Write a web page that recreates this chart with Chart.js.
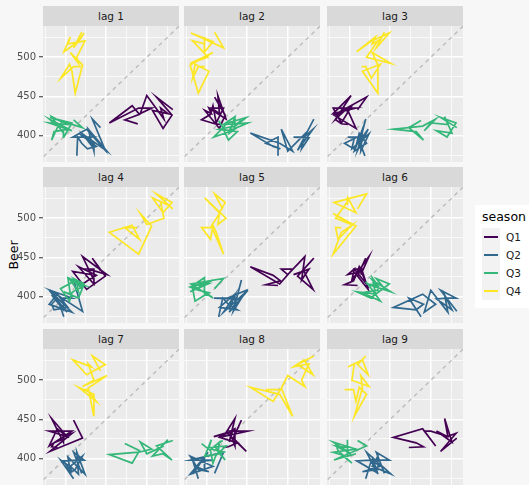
<!DOCTYPE html>
<html>
<head>
<meta charset="utf-8">
<script src="https://cdn.jsdelivr.net/npm/chart.js@4.4.1/dist/chart.umd.min.js"></script>
<style>
    body { margin: 0; background: #f7f7f7; font-family: "DejaVu Sans", sans-serif; }
    #plot { position: relative; width: 529px; height: 485px; overflow: hidden; }
    .panel { position: absolute; }
    .strip { position: absolute; height: 20px; background: #d9d9d9; color: #1a1a1a;
             font-size: 10.5px; line-height: 20px; text-align: center; }
    #ytitle { position: absolute; left: 13px; top: 255px; font-size: 12.5px; color: #000;
              transform: translate(-50%, -50%) rotate(-90deg); white-space: nowrap; }
    #legend { position: absolute; left: 475px; top: 205px; width: 60px; height: 103px; background: #fff; }
    #legend .title { position: absolute; left: 7px; top: 4px; font-size: 12.5px; color: #000; }
    #legend .key { position: absolute; left: 7px; width: 18px; height: 18px; background: #f2f2f2; }
    #legend .key span { position: absolute; left: 2px; top: 8px; width: 14px; height: 1.6px; }
    #legend .lab { position: absolute; left: 31px; font-size: 10.5px; color: #1a1a1a; line-height: 18px; }
</style>
</head>
<body>
<div id="plot">
    <div id="ytitle">Beer</div>
    <div id="legend"><div class="title">season</div></div>
</div>
<script>
// quarterly beer production, 1992 Q1 .. 2010 Q2
const startYear = 1992;
const seasons = ['Q1', 'Q2', 'Q3', 'Q4'];
const seasonColours = ['#440154', '#31688E', '#35B779', '#FDE725'];
const beer = [
    443, 410, 420, 532,
    433, 421, 410, 512,
    449, 381, 423, 531,
    426, 408, 416, 520,
    409, 398, 398, 507,
    432, 398, 406, 526,
    428, 397, 403, 517,
    435, 383, 424, 521,
    421, 402, 414, 500,
    451, 380, 416, 492,
    428, 408, 406, 506,
    435, 380, 421, 490,
    435, 390, 412, 454,
    416, 403, 408, 482,
    438, 386, 405, 491,
    427, 383, 394, 473,
    420, 390, 410, 488,
    415, 398, 419, 488,
    414, 374
];
const lags = [1, 2, 3, 4, 5, 6, 7, 8, 9];
const gridTicks = [375, 400, 425, 450, 475, 500, 525];
const labelTicks = [400, 450, 500];

// facet layout
const colLeft = [43, 184, 327];
const rowTop = [26, 187, 349];
const panelW = 136, panelH = 136, axisW = 43;

// ggplot style 5% expansion of a data range
function expand(values) {
    const lo = Math.min(...values), hi = Math.max(...values);
    const pad = (hi - lo) * 0.05;
    return [lo - pad, hi + pad];
}

// x is the lagged value, so the last observation never appears there
const xRange = expand(beer.slice(0, beer.length - 1));
const yRange = expand(beer);

const isMajor = v => labelTicks.includes(v);

const panelBackground = {
    id: 'panelBackground',
    beforeDraw(chart) {
        const a = chart.chartArea;
        chart.ctx.save();
        chart.ctx.fillStyle = '#ebebeb';
        chart.ctx.fillRect(a.left, a.top, a.right - a.left, a.bottom - a.top);
        chart.ctx.restore();
    }
};

function lagDatasets(lag) {
    const sets = seasons.map((name, s) => ({
        label: name,
        data: [],
        showLine: true,
        borderColor: seasonColours[s],
        backgroundColor: seasonColours[s],
        borderWidth: 1.7,
        pointRadius: 0,
        order: 4 - s
    }));
    for (let t = lag; t < beer.length; t++) {
        sets[t % 4].data.push({ x: beer[t - lag], y: beer[t] });
    }
    const lo = Math.min(xRange[0], yRange[0]), hi = Math.max(xRange[1], yRange[1]);
    sets.push({
        label: 'diagonal',
        data: [{ x: lo, y: lo }, { x: hi, y: hi }],
        showLine: true,
        borderColor: '#bebebe',
        borderWidth: 1.5,
        borderDash: [4, 4],
        pointRadius: 0,
        order: 10
    });
    return sets;
}

function gridOptions(withTicks) {
    return {
        color: '#ffffff',
        lineWidth: c => (c.tick && isMajor(c.tick.value)) ? 1.5 : 0.7,
        drawTicks: withTicks,
        tickLength: 4,
        tickWidth: 1,
        tickColor: c => (c.tick && isMajor(c.tick.value)) ? '#333333' : 'rgba(0,0,0,0)'
    };
}

function createPanel(lag, i) {
    const col = i % 3, row = Math.floor(i / 3);
    const showY = col === 0;
    const plot = document.getElementById('plot');

    const strip = document.createElement('div');
    strip.className = 'strip';
    strip.style.left = colLeft[col] + 'px';
    strip.style.top = (rowTop[row] - 20) + 'px';
    strip.style.width = panelW + 'px';
    strip.textContent = 'lag ' + lag;
    plot.appendChild(strip);

    const canvas = document.createElement('canvas');
    const w = showY ? panelW + axisW : panelW;
    canvas.width = w;
    canvas.height = panelH;
    canvas.className = 'panel';
    canvas.style.left = (showY ? colLeft[col] - axisW : colLeft[col]) + 'px';
    canvas.style.top = rowTop[row] + 'px';
    canvas.style.width = w + 'px';
    canvas.style.height = panelH + 'px';
    plot.appendChild(canvas);

    return new Chart(canvas.getContext('2d'), {
        type: 'scatter',
        data: { datasets: lagDatasets(lag) },
        plugins: [panelBackground],
        options: {
            responsive: false,
            animation: false,
            layout: { padding: 0 },
            plugins: { legend: { display: false }, tooltip: { enabled: false } },
            scales: {
                x: {
                    type: 'linear',
                    min: xRange[0],
                    max: xRange[1],
                    afterBuildTicks: a => { a.ticks = gridTicks.map(v => ({ value: v })); },
                    afterFit: a => { a.height = 0; a.paddingLeft = 0; a.paddingRight = 0; },
                    ticks: { display: false },
                    border: { display: false },
                    grid: gridOptions(false)
                },
                y: {
                    type: 'linear',
                    min: yRange[0],
                    max: yRange[1],
                    afterBuildTicks: a => { a.ticks = gridTicks.map(v => ({ value: v })); },
                    afterFit: a => {
                        a.width = showY ? axisW : 0;
                        a.paddingTop = 0;
                        a.paddingBottom = 0;
                    },
                    ticks: {
                        display: showY,
                        autoSkip: false,
                        padding: 3,
                        color: '#4d4d4d',
                        font: { family: 'DejaVu Sans', size: 10 },
                        callback: v => isMajor(v) ? String(v) : ''
                    },
                    border: { display: false },
                    grid: gridOptions(showY)
                }
            }
        }
    });
}

lags.forEach(createPanel);

// shared season legend
const legend = document.getElementById('legend');
seasons.forEach((name, s) => {
    const key = document.createElement('div');
    key.className = 'key';
    key.style.top = (23 + s * 18) + 'px';
    const line = document.createElement('span');
    line.style.background = seasonColours[s];
    key.appendChild(line);
    legend.appendChild(key);

    const lab = document.createElement('div');
    lab.className = 'lab';
    lab.style.top = (23 + s * 18) + 'px';
    lab.textContent = name;
    legend.appendChild(lab);
});
</script>
</body>
</html>
